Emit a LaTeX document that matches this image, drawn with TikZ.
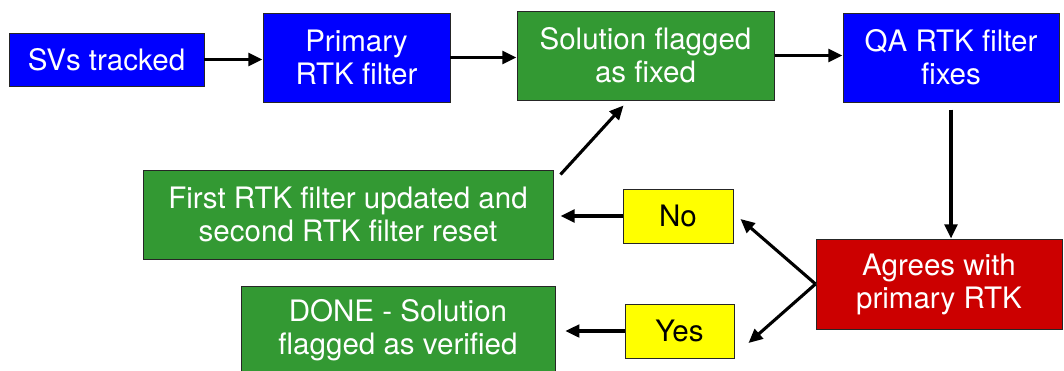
\documentclass[tikz,border=0pt]{standalone}
\usepackage{fontspec}
\setmainfont{TeX Gyre Heros}
\usetikzlibrary{arrows.meta}
\definecolor{svblue}{RGB}{0,0,255}
\definecolor{flaggreen}{RGB}{51,153,51}
\definecolor{agreered}{RGB}{204,0,0}
\definecolor{answeryellow}{RGB}{255,255,0}
\begin{document}
\begin{tikzpicture}[x=0.025cm, y=-0.025cm,
	box/.style={draw=black!85, line width=0.7pt, inner sep=0pt, align=center, text=white,
		font=\fontsize{21}{23.5}\selectfont},
	answer/.style={box, fill=answeryellow, text=black},
	arr/.style={-{Triangle[length=10pt,width=9pt]}, line width=2.2pt}]
	\def\pxlen{0.025cm}
	\useasboundingbox (0,0) rectangle (1064,370);

	\node[box, fill=svblue, minimum width=195*\pxlen, minimum height=53*\pxlen] (svs) at (106.5,59.5) {SVs tracked};
	\node[box, fill=svblue, minimum width=187*\pxlen, minimum height=89*\pxlen] (primary) at (356.5,57.5) {Primary\\RTK filter};
	\node[box, fill=flaggreen, minimum width=257*\pxlen, minimum height=89*\pxlen] (solution) at (645.5,55.5) {Solution flagged\\as fixed};
	\node[box, fill=svblue, minimum width=216*\pxlen, minimum height=89*\pxlen] (qa) at (951,57.5) {QA RTK filter\\fixes};

	\node[box, fill=agreered, minimum width=246*\pxlen, minimum height=90*\pxlen] (agree) at (939,284) {Agrees with\\primary RTK};
	\node[answer, minimum width=110*\pxlen, minimum height=54*\pxlen] (no) at (678,216) {No};
	\node[answer, minimum width=109*\pxlen, minimum height=54*\pxlen] (yes) at (679.5,331) {Yes};

	\node[box, fill=flaggreen, minimum width=410*\pxlen, minimum height=89*\pxlen] (first) at (348,214.5) {First RTK filter updated and\\second RTK filter reset};
	\node[box, fill=flaggreen, minimum width=314*\pxlen, minimum height=89*\pxlen] (done) at (398,330.5) {DONE - Solution\\flagged as verified};

	\draw[arr] (svs.east) -- (svs.east -| primary.west);
	\draw[arr] (primary.east) -- (primary.east -| solution.west);
	\draw[arr] (solution.east) -- (solution.east -| qa.west);
	\draw[arr, shorten <=5pt] (qa.south) -- (qa.south |- agree.north);
	\draw[arr] (agree.west) -- ([shift={(7,3)}]no.east);
	\draw[arr] (agree.west) -- ([shift={(14,12)}]yes.east);
	\draw[arr, shorten >=5pt] (no.west) -- (no.west -| first.east);
	\draw[arr, shorten >=7pt] (yes.west) -- (yes.west -| done.east);
	\draw[arr] ([shift={(7,5)}]first.north east) -- ([shift={(-22,5)}]solution.south);
\end{tikzpicture}
\end{document}
